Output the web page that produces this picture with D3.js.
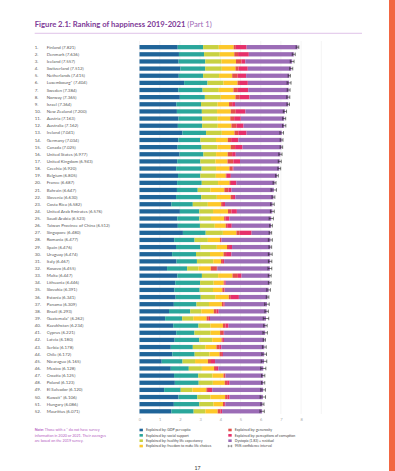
<!DOCTYPE html>
<html><head><meta charset="utf-8">
<script src="https://cdn.jsdelivr.net/npm/d3@7"></script>
<style>
body{margin:0;background:#fff;}
svg{display:block;}
text{font-family:Lato,"Open Sans",sans-serif;}
</style></head>
<body>
<script>
const countries = ["Finland","Denmark","Iceland","Switzerland","Netherlands","Luxembourg*","Sweden","Norway","Israel","New Zealand",
"Austria","Australia","Ireland","Germany","Canada","United States","United Kingdom","Czechia","Belgium","France",
"Bahrain","Slovenia","Costa Rica","United Arab Emirates","Saudi Arabia","Taiwan Province of China","Singapore","Romania","Spain","Uruguay",
"Italy","Kosovo","Malta","Lithuania","Slovakia","Estonia","Panama","Brazil","Guatemala*","Kazakhstan",
"Cyprus","Latvia","Serbia","Chile","Nicaragua","Mexico","Croatia","Poland","El Salvador","Kuwait*",
"Hungary","Mauritius"];
const scores = [7.821,7.636,7.557,7.512,7.415,7.404,7.384,7.365,7.364,7.200,
7.163,7.162,7.041,7.034,7.025,6.977,6.943,6.920,6.805,6.687,
6.647,6.630,6.582,6.576,6.523,6.512,6.480,6.477,6.476,6.474,
6.467,6.455,6.447,6.446,6.391,6.341,6.309,6.293,6.262,6.234,
6.221,6.180,6.178,6.172,6.165,6.128,6.125,6.123,6.120,6.106,
6.086,6.071];
const gdp = [1.892,1.953,1.936,2.026,1.945,2.209,1.920,1.997,1.826,1.852,
1.931,1.900,2.129,1.924,1.886,1.982,1.867,1.815,1.907,1.863,
1.854,1.810,1.584,2.000,1.870,1.897,2.149,1.719,1.808,1.615,
1.834,1.364,1.876,1.770,1.730,1.790,1.700,1.460,1.270,1.670,
1.820,1.740,1.550,1.630,1.100,1.550,1.710,1.750,1.220,1.930,
1.700,1.580];
const social = [1.258,1.243,1.320,1.226,1.206,1.155,1.204,1.239,1.221,1.235,
1.165,1.203,1.166,1.088,1.188,1.182,1.143,1.260,1.106,1.219,
1.029,1.249,1.054,0.960,1.092,1.095,1.127,1.006,1.211,1.182,
1.009,0.995,1.214,1.230,1.250,1.240,1.120,1.050,0.840,1.250,
0.900,1.220,1.090,1.100,1.030,0.890,1.200,1.180,0.820,0.930,
1.260,1.100];
const health = [0.775,0.777,0.803,0.822,0.787,0.790,0.803,0.786,0.818,0.752,
0.774,0.772,0.779,0.776,0.783,0.628,0.750,0.715,0.764,0.808,
0.625,0.769,0.744,0.680,0.577,0.733,0.851,0.660,0.808,0.693,
0.807,0.560,0.803,0.670,0.660,0.720,0.620,0.550,0.550,0.590,
0.800,0.640,0.620,0.730,0.620,0.650,0.700,0.700,0.580,0.650,
0.700,0.580];
const freedom = [0.736,0.719,0.718,0.677,0.651,0.700,0.724,0.728,0.568,0.680,
0.623,0.676,0.627,0.585,0.659,0.574,0.597,0.660,0.492,0.567,
0.693,0.685,0.661,0.740,0.651,0.542,0.672,0.598,0.505,0.671,
0.384,0.610,0.711,0.500,0.460,0.670,0.640,0.620,0.660,0.620,
0.470,0.460,0.550,0.500,0.640,0.600,0.550,0.590,0.690,0.730,
0.470,0.610];
const generosity = [0.109,0.188,0.270,0.147,0.271,0.120,0.218,0.217,0.155,0.245,
0.193,0.258,0.190,0.163,0.217,0.220,0.289,0.158,0.049,0.070,
0.199,0.118,0.089,0.170,0.078,0.074,0.163,0.052,0.101,0.124,
0.096,0.300,0.266,0.040,0.100,0.100,0.080,0.140,0.110,0.130,
0.160,0.060,0.140,0.120,0.150,0.100,0.080,0.120,0.080,0.120,
0.060,0.140];
const corruption = [0.534,0.532,0.191,0.461,0.419,0.388,0.512,0.474,0.143,0.483,
0.329,0.341,0.408,0.358,0.368,0.177,0.329,0.048,0.204,0.266,
0.155,0.115,0.102,0.270,0.180,0.226,0.587,0.027,0.149,0.266,
0.060,0.025,0.181,0.060,0.020,0.400,0.060,0.100,0.060,0.150,
0.040,0.060,0.100,0.050,0.200,0.120,0.020,0.120,0.210,0.100,
0.060,0.080];
const dystopia = [2.518,2.226,2.320,2.153,2.137,2.042,2.003,1.925,2.634,1.954,
2.148,2.011,1.743,2.140,1.924,2.214,1.967,2.264,2.283,1.894,
2.093,1.883,2.348,1.756,2.075,1.945,0.931,2.415,1.894,1.923,
2.277,2.601,1.396,2.176,2.171,1.421,2.089,2.373,2.772,1.824,
2.031,2.000,2.128,2.042,2.425,2.218,1.865,1.663,2.520,1.646,
1.836,1.981];
const whiskerLow = [7.756,7.563,7.464,7.437,7.359,7.307,7.315,7.290,7.301,7.120,
7.089,7.081,6.952,6.966,6.963,6.898,6.870,6.851,6.739,6.615,
6.514,6.558,6.495,6.481,6.418,6.447,6.418,6.378,6.409,6.380,
6.382,6.360,6.376,6.380,6.302,6.277,6.196,6.209,6.127,6.149,
6.111,6.124,6.085,6.057,6.028,6.001,6.044,6.044,6.005,5.973,
6.010,5.964];
const whiskerHigh = [7.886,7.710,7.651,7.586,7.471,7.501,7.454,7.440,7.426,7.279,
7.237,7.244,7.130,7.103,7.087,7.056,7.017,6.989,6.871,6.758,
6.779,6.701,6.670,6.671,6.628,6.577,6.542,6.575,6.542,6.568,
6.551,6.549,6.517,6.513,6.480,6.405,6.422,6.378,6.398,6.319,
6.331,6.236,6.272,6.287,6.301,6.255,6.205,6.201,6.234,6.239,
6.162,6.178];
const tickValues = [0,1,2,3,4,5,6,7,8];
const gridValues = [0,1,2,3,4,5,6,7,8,9];
const seriesKeys = ["gdp","social","health","freedom","generosity","corruption","dystopia"];
const seriesLabels = ["Explained by: GDP per capita","Explained by: social support","Explained by: healthy life expectancy","Explained by: freedom to make life choices",
"Explained by: generosity","Explained by: perceptions of corruption","Dystopia (1.83) + residual"];
const seriesColors = ["#1f6499","#2aa69b","#c8d142","#fdc82a","#e2504a","#e6306a","#9b6cb6"];
const noteLines = ["information in 2020 or 2021. Their averages","are based on the 2019 survey."];

const W = 395, H = 471;
const svg = d3.select("body").append("svg").attr("width", W).attr("height", H);

// orange side strip
svg.append("rect").attr("x", 389).attr("y", 0).attr("width", 6).attr("height", H).attr("fill", "#f26742");

// title
const title = svg.append("text").attr("x", 34.7).attr("y", 27.3).attr("font-size", 7.7).attr("fill", "#7e3a97");
title.append("tspan").attr("font-weight", 700).text("Figure 2.1: Ranking of happiness 2019-2021 ");
title.append("tspan").attr("font-weight", 400).attr("fill", "#a06cb8").text("(Part 1)");
svg.append("line").attr("x1", 34.7).attr("x2", 362).attr("y1", 33.3).attr("y2", 33.3)
  .attr("stroke", "#d3a9de").attr("stroke-width", 0.7);

const rows = countries.map((c, i) => ({
  country: c, rank: i + 1, score: scores[i],
  gdp: gdp[i], social: social[i], health: health[i], freedom: freedom[i],
  generosity: generosity[i], corruption: corruption[i], dystopia: dystopia[i],
  lo: whiskerLow[i], hi: whiskerHigh[i]
}));

const x = d3.scaleLinear().domain([0, 9]).range([139.5, 321.3]);
const y = d3.scaleBand().domain(countries).range([43.6, 43.6 + 52 * 7.14]).paddingInner(0.4).paddingOuter(0.2);
const color = d3.scaleOrdinal().domain(seriesKeys).range(seriesColors);

// grid
svg.append("g").selectAll("line").data(gridValues).join("line")
  .attr("x1", d => x(d)).attr("x2", d => x(d)).attr("y1", 41).attr("y2", 414)
  .attr("stroke", "#ededed").attr("stroke-width", 0.6);

// stacked bars
const stack = d3.stack().keys(seriesKeys)(rows);
svg.append("g").selectAll("g").data(stack).join("g").attr("fill", d => color(d.key))
  .selectAll("rect").data(d => d).join("rect")
  .attr("x", d => x(d[0])).attr("width", d => Math.max(0, x(d[1]) - x(d[0])))
  .attr("y", d => y(d.data.country)).attr("height", y.bandwidth());

// confidence intervals
const ci = svg.append("g").attr("stroke", "#222").attr("stroke-width", 0.6);
rows.forEach(r => {
  const cy = y(r.country) + y.bandwidth() / 2;
  ci.append("line").attr("x1", x(r.lo)).attr("x2", x(r.hi)).attr("y1", cy).attr("y2", cy);
  ci.append("line").attr("x1", x(r.lo)).attr("x2", x(r.lo)).attr("y1", cy - 1.8).attr("y2", cy + 1.8);
  ci.append("line").attr("x1", x(r.hi)).attr("x2", x(r.hi)).attr("y1", cy - 1.8).attr("y2", cy + 1.8);
});

// row labels
const lab = svg.append("g").attr("font-size", 4.4).attr("fill", "#5a5a5a");
lab.selectAll("text.rank").data(rows).join("text").attr("class", "rank")
  .attr("x", 34.8).attr("y", d => y(d.country) + y.bandwidth() / 2).attr("dy", "0.35em")
  .text(d => d.rank + ".");
lab.selectAll("text.name").data(rows).join("text").attr("class", "name")
  .attr("x", 46.7).attr("y", d => y(d.country) + y.bandwidth() / 2).attr("dy", "0.35em")
  .text(d => `${d.country} (${d.score.toFixed(3)})`);

// x axis
const axis = svg.append("g").attr("transform", "translate(0,416)")
  .call(d3.axisBottom(x).tickValues(tickValues).tickSize(0).tickPadding(2).tickFormat(d3.format("d")));
axis.select(".domain").remove();
axis.selectAll("text").attr("font-size", 4).attr("fill", "#aaa").attr("font-family", "Lato, sans-serif");

// note
const note = svg.append("g").attr("font-size", 3.7).attr("fill", "#b45cc2");
const n1 = note.append("text").attr("x", 34.7).attr("y", 431.3);
n1.append("tspan").attr("font-weight", 700).text("Note: ");
n1.append("tspan").text("Those with a * do not have survey");
note.selectAll("text.nl").data(noteLines).join("text").attr("class", "nl")
  .attr("x", 34.7).attr("y", (d, i) => 436.6 + i * 5.35).text(d => d);

// legend
const legendItems = seriesKeys.map((k, i) => ({ key: k, label: seriesLabels[i], color: seriesColors[i] }));
legendItems.push({ key: "ci", label: "95% confidence interval", color: null });
const leg = svg.append("g").attr("font-size", 3.5).attr("fill", "#444");
legendItems.forEach((d, i) => {
  const col = i < 4 ? 0 : 1;
  const row = i < 4 ? i : i - 4;
  const lx = col === 0 ? 139.5 : 228.3;
  const ly = 430 + row * 5.35;
  if (d.color) {
    leg.append("rect").attr("x", lx).attr("y", ly - 1.3).attr("width", 3.4).attr("height", 2.6).attr("fill", d.color);
  } else {
    const g = leg.append("g").attr("stroke", "#333").attr("stroke-width", 0.5);
    g.append("line").attr("x1", lx).attr("x2", lx + 3.4).attr("y1", ly).attr("y2", ly);
    g.append("line").attr("x1", lx).attr("x2", lx).attr("y1", ly - 1.2).attr("y2", ly + 1.2);
    g.append("line").attr("x1", lx + 3.4).attr("x2", lx + 3.4).attr("y1", ly - 1.2).attr("y2", ly + 1.2);
  }
  leg.append("text").attr("x", lx + 6.5).attr("y", ly).attr("dy", "0.35em").text(d.label);
});

// page number
svg.append("text").attr("x", 197.5).attr("y", 470).attr("text-anchor", "middle")
  .attr("font-size", 5.2).attr("fill", "#333").attr("font-weight", 400).text("17");
</script>
</body></html>
